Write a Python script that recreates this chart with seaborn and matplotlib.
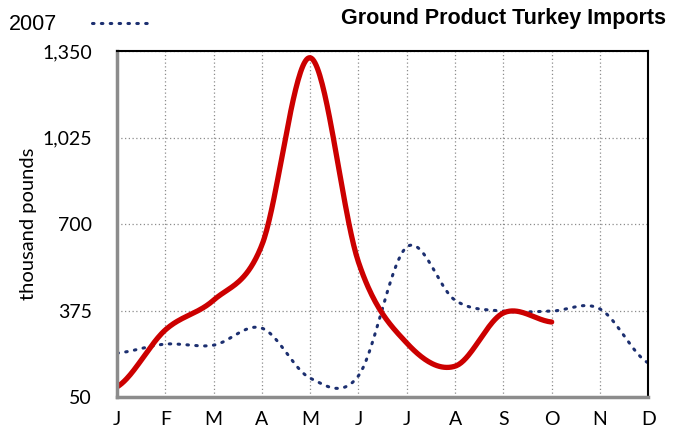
import numpy as np
import pandas as pd
import matplotlib
matplotlib.use("Agg")
import matplotlib.pyplot as plt
import seaborn as sns

# data (thousand pounds)
months = ['J', 'F', 'M', 'A', 'M', 'J', 'J', 'A', 'S', 'O', 'N', 'D']
imports_2007 = [215, 249, 245, 309, 121, 130, 614, 414, 373, 373, 381, 178]
imports_2008 = [88, 302, 414, 621, 1325, 557, 253, 166, 366, 332]
y_ticks = [50, 375, 700, 1025, 1350]


def smooth(values, steps=40):
    """Excel-style smoothed line (cardinal Bezier through the points)."""
    v = np.asarray(values, dtype=float)
    n = len(v)
    xs, ys = [], []
    for i in range(n - 1):
        p0 = v[i - 1] if i > 0 else v[i]
        p3 = v[i + 2] if i + 2 < n else v[i + 1]
        p1, p2 = v[i], v[i + 1]
        c1 = p1 + (p2 - p0) / 6.0
        c2 = p2 - (p3 - p1) / 6.0
        t = np.linspace(0, 1, steps, endpoint=(i == n - 2))
        y = (1 - t) ** 3 * p1 + 3 * (1 - t) ** 2 * t * c1 + 3 * (1 - t) * t ** 2 * c2 + t ** 3 * p2
        xs.append(i + t)
        ys.append(y)
    return np.concatenate(xs), np.concatenate(ys)


sns.set_style("white")
plt.rcParams['font.family'] = ['Lato', 'DejaVu Sans']

fig = plt.figure(figsize=(6.76, 4.33), dpi=100)
ax = fig.add_axes([0.173, 0.083, 0.786, 0.799])

x07, y07 = smooth(imports_2007)
x08, y08 = smooth(imports_2008)
df07 = pd.DataFrame({'month': x07, 'value': y07})
df08 = pd.DataFrame({'month': x08, 'value': y08})

sns.lineplot(data=df07, x='month', y='value', ax=ax, sort=False,
             color='#1c2f70', linewidth=2.2, linestyle=(0, (0.5, 2.4)),
             dash_capstyle='round', label='2007')
sns.lineplot(data=df08, x='month', y='value', ax=ax, sort=False,
             color='#cc0000', linewidth=3.8, label='_2008')

ax.set_xlim(0, 11)
ax.set_ylim(50, 1350)
ax.set_xticks(range(len(months)))
ax.set_xticklabels(months)
ax.set_yticks(y_ticks)
ax.set_yticklabels([f'{v:,}' for v in y_ticks])
ax.set_xlabel('')
ax.set_ylabel('thousand pounds', fontsize=14.5, labelpad=4, color='black')

ax.grid(True, color='#8c8c8c', linestyle=(0, (1, 2)), linewidth=0.9)
ax.set_axisbelow(True)

for side in ['left', 'bottom']:
    ax.spines[side].set_color('#8c8c8c')
    ax.spines[side].set_linewidth(2.5)
for side in ['top', 'right']:
    ax.spines[side].set_color('black')
    ax.spines[side].set_linewidth(1.5)

ax.tick_params(axis='both', direction='inout', length=12, width=2,
               color='#8c8c8c', labelsize=14, labelcolor='black')
ax.tick_params(axis='x', pad=4)
ax.tick_params(axis='y', pad=12)

leg = ax.legend(loc='upper left', bbox_to_anchor=(-0.015, 1.012), bbox_transform=fig.transFigure,
                frameon=False, markerfirst=False, handlelength=2.8, handletextpad=1.6,
                labelcolor='black', prop={'family': 'Liberation Sans', 'size': 15.5})

fig.text(0.985, 0.958, 'Ground Product Turkey Imports', ha='right', va='center',
         fontsize=15.5, fontweight='bold', family='Liberation Sans', color='black')

fig.savefig('out.png', dpi=100)
